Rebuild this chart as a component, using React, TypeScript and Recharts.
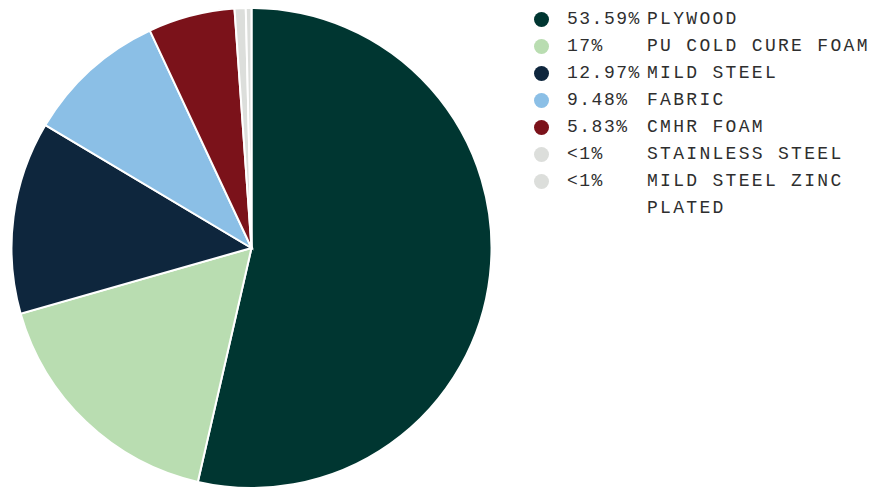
import { PieChart, Pie, Cell } from "recharts";

const materials = [
  "PLYWOOD",
  "PU COLD CURE FOAM",
  "MILD STEEL",
  "FABRIC",
  "CMHR FOAM",
  "STAINLESS STEEL",
  "MILD STEEL ZINC PLATED",
];
const shares = [53.59, 17, 12.97, 9.48, 5.83, 0.75, 0.38];
const shareLabels = ["53.59%", "17%", "12.97%", "9.48%", "5.83%", "<1%", "<1%"];
const colors = ["#003631", "#b9ddb1", "#0e263d", "#8bbfe6", "#7b121a", "#dcdedb", "#dcdedb"];

const data = materials.map((name, i) => ({ name, value: shares[i] }));

const FONT = '"Liberation Mono", "DejaVu Sans Mono", monospace';

export default function App() {
  return (
    <div style={{ position: "relative", width: 870, height: 480 }}>
      <PieChart width={870} height={480} margin={{ top: 0, right: 0, bottom: 0, left: 0 }}>
        <Pie
          data={data}
          dataKey="value"
          nameKey="name"
          cx={243.5}
          cy={240}
          outerRadius={240}
          startAngle={90}
          endAngle={-270}
          stroke="#ffffff"
          strokeWidth={2}
          isAnimationActive={false}
        >
          {data.map((d, i) => (
            <Cell key={d.name} fill={colors[i]} />
          ))}
        </Pie>
      </PieChart>

      {/* legend drawn as plain html so the wrapped name lines up under its column */}
      <div
        style={{
          position: "absolute",
          left: 526,
          top: -2.5,
          fontFamily: FONT,
          fontSize: 18,
          color: "#2e2e2e",
        }}
      >
        {data.map((d, i) => (
          <div key={d.name} style={{ display: "flex", alignItems: "flex-start", lineHeight: "27px" }}>
            <span style={{ width: 16, height: 27, display: "flex", alignItems: "center" }}>
              <span
                style={{ width: 15, height: 15, borderRadius: "50%", background: colors[i], display: "block" }}
              />
            </span>
            <span style={{ marginLeft: 17, width: 80, whiteSpace: "nowrap", letterSpacing: 1.5 }}>
              {shareLabels[i]}
            </span>
            <span style={{ width: 232, letterSpacing: 2.3 }}>{d.name}</span>
          </div>
        ))}
      </div>
    </div>
  );
}
